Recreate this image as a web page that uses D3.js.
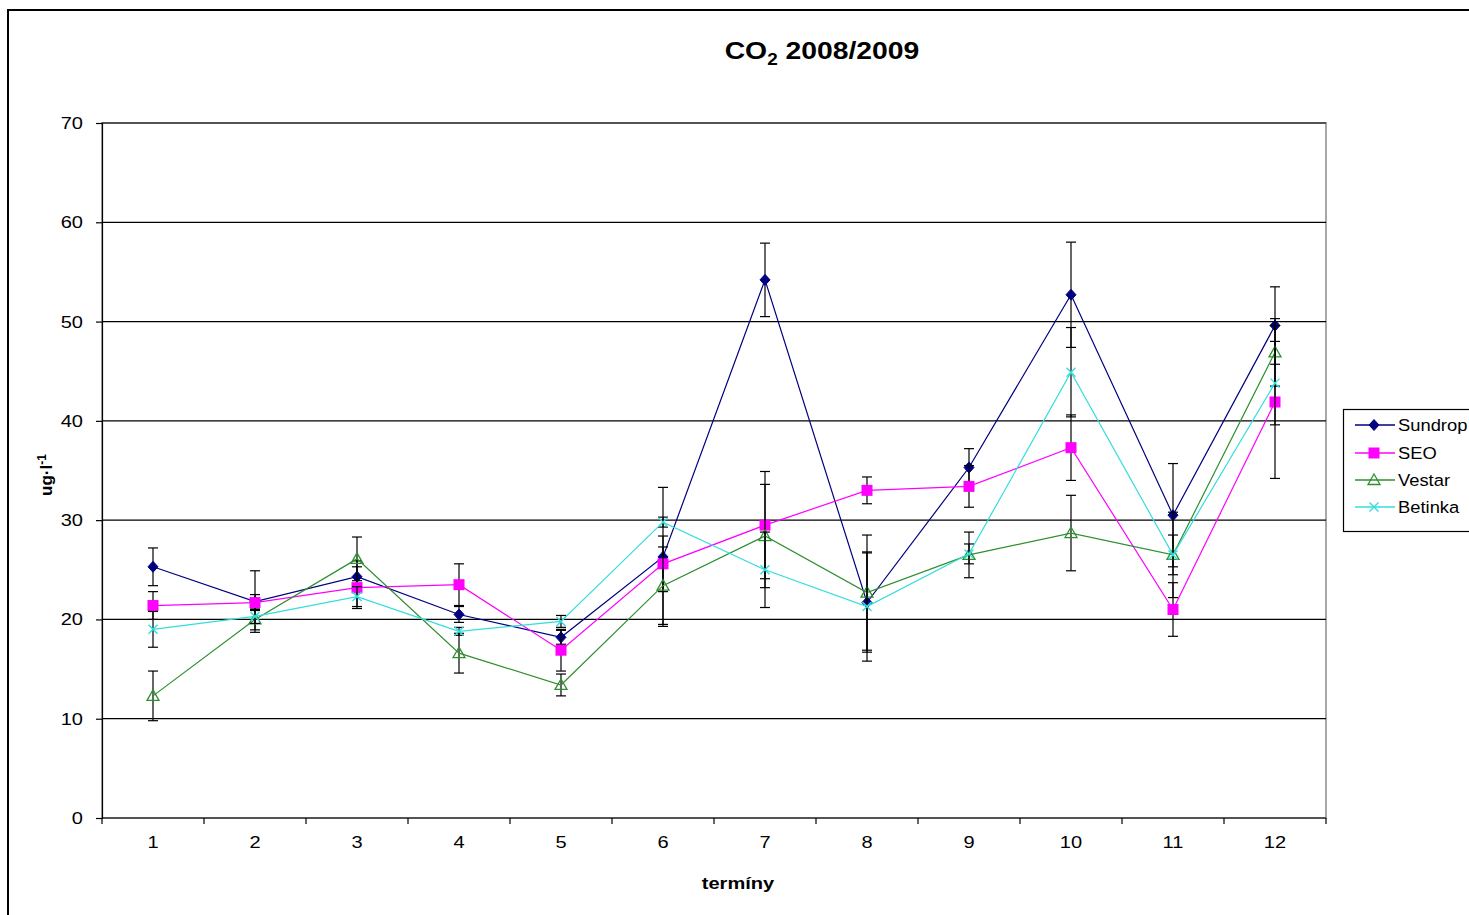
<!DOCTYPE html>
<html>
<head>
<meta charset="utf-8">
<script src="https://cdn.jsdelivr.net/npm/d3@7"></script>
<style>
  html, body { margin: 0; padding: 0; background: #fff; overflow: hidden; }
  svg { display: block; }
  text { font-family: "Liberation Sans", Arial, sans-serif; fill: #000; }
</style>
</head>
<body>
<svg id="chart" width="1469" height="915"></svg>
<script>
// Sampling dates (termíny)
const terms = ["1","2","3","4","5","6","7","8","9","10","11","12"];

// Mean CO2 values per site
const sundrop = [25.3, 21.8, 24.3, 20.5, 18.2, 26.3, 54.2, 21.7, 35.3, 52.7, 30.5, 49.6];
const seo     = [21.4, 21.7, 23.2, 23.5, 16.9, 25.6, 29.5, 33.0, 33.4, 37.3, 21.0, 41.9];
const vestar  = [12.3, 20.0, 26.1, 16.6, 13.4, 23.4, 28.4, 22.7, 26.5, 28.7, 26.5, 46.9];
const betinka = [19.0, 20.3, 22.3, 18.8, 19.8, 29.8, 25.0, 21.3, 26.6, 44.9, 26.5, 43.8];

// Error bar half-widths per site
const sundropErr = [1.9, 3.1, 1.6, 0.8, 0.7, 7.0, 3.7, 5.0, 1.9, 5.3, 5.2, 3.9];
const seoErr     = [1.4, 0.8, 2.1, 2.1, 2.1, 2.8, 5.4, 1.35, 2.1, 3.3, 2.7, 7.7];
const vestarErr  = [2.5, 1.05, 2.2, 2.0, 1.1, 3.9, 5.2, 5.8, 2.3, 3.8, 4.3, 3.4];
const betinkaErr = [1.8, 0.7, 1.0, 0.4, 0.6, 0.5, 3.8, 5.5, 1.0, 4.5, 2.0, 4.2];

const seriesNames = ["Sundrop", "SEO", "Vestar", "Betinka"];
const yTicks = [0, 10, 20, 30, 40, 50, 60, 70];

const series = [
  { name: seriesNames[0], values: sundrop, errs: sundropErr, color: "#000080", marker: "diamond" },
  { name: seriesNames[1], values: seo,     errs: seoErr,     color: "#ff00ff", marker: "square" },
  { name: seriesNames[2], values: vestar,  errs: vestarErr,  color: "#2f8f2f", marker: "triangle" },
  { name: seriesNames[3], values: betinka, errs: betinkaErr, color: "#33dddd", marker: "cross" }
];

const svg = d3.select("#chart");
const plot = { left: 102, right: 1326, top: 123, bottom: 818 };
const SX = 1.18; // horizontal stretch of text glyphs

const x = d3.scaleBand().domain(terms).range([plot.left, plot.right]).padding(0);
const y = d3.scaleLinear().domain([0, 70]).range([plot.bottom, plot.top]);
const cx = d => x(d) + x.bandwidth() / 2;

function stretchedText(g, px, py, str, opts = {}) {
  const t = g.append("text")
    .attr("transform", `translate(${px},${py}) scale(${opts.sx || SX},1)` + (opts.rotate ? ` rotate(${opts.rotate})` : ""))
    .attr("text-anchor", opts.anchor || "middle")
    .style("font-size", (opts.size || 17) + "px")
    .style("font-weight", opts.bold ? "bold" : "normal");
  return t;
}

// Outer chart frame
svg.append("rect")
  .attr("x", 8).attr("y", 10).attr("width", 1500).attr("height", 940)
  .attr("fill", "none").attr("stroke", "#000").attr("stroke-width", 2);

// Plot area border
svg.append("rect")
  .attr("x", plot.left).attr("y", plot.top)
  .attr("width", plot.right - plot.left).attr("height", plot.bottom - plot.top)
  .attr("fill", "none").attr("stroke", "#a8a8a8").attr("stroke-width", 2);

// Horizontal gridlines
svg.append("g").selectAll("line")
  .data(yTicks.filter(v => v > 0))
  .join("line")
  .attr("x1", plot.left).attr("x2", plot.right)
  .attr("y1", d => y(d)).attr("y2", d => y(d))
  .attr("stroke", "#000").attr("stroke-width", 1.2);

// Y axis
const yAxis = svg.append("g")
  .attr("transform", `translate(${plot.left},0)`)
  .call(d3.axisLeft(y).tickValues(yTicks).tickSize(6).tickFormat(""));
yAxis.select(".domain").attr("stroke", "#000").attr("stroke-width", 1.2);
yAxis.selectAll(".tick line").attr("stroke", "#000").attr("stroke-width", 1.2);
yTicks.forEach(v => {
  stretchedText(svg, 83, y(v) + 6, String(v), { anchor: "end" }).text(v);
});

// X axis with ticks between categories
const xAxisG = svg.append("g").attr("transform", `translate(0,${plot.bottom})`);
xAxisG.append("line")
  .attr("x1", plot.left).attr("x2", plot.right)
  .attr("stroke", "#000").attr("stroke-width", 1.2);
const boundaries = terms.map(t => x(t)).concat([x(terms[terms.length - 1]) + x.bandwidth()]);
xAxisG.selectAll("line.tk").data(boundaries).join("line")
  .attr("class", "tk")
  .attr("x1", d => d).attr("x2", d => d)
  .attr("y1", 0).attr("y2", 6)
  .attr("stroke", "#000").attr("stroke-width", 1.2);
terms.forEach(t => {
  stretchedText(svg, cx(t), 848, t).text(t);
});

// Title
const title = stretchedText(svg, 822, 59, "", { bold: true, size: 24 });
title.append("tspan").text("CO");
title.append("tspan").attr("dy", 6).style("font-size", "16px").text("2");
title.append("tspan").attr("dy", -6).text(" 2008/2009");

// Axis titles
stretchedText(svg, 738, 889, "", { bold: true, size: 17 }).text("termíny");
const yl = svg.append("text")
  .attr("transform", "translate(52,475) rotate(-90)")
  .attr("text-anchor", "middle")
  .style("font-size", "17px").style("font-weight", "bold");
yl.append("tspan").text("ug·l");
yl.append("tspan").attr("dy", -6).style("font-size", "12px").text("-1");

// Marker drawing
function drawMarker(g, type, color, px, py) {
  if (type === "diamond") {
    g.append("path")
      .attr("d", `M${px},${py - 5.5}L${px + 5},${py}L${px},${py + 5.5}L${px - 5},${py}Z`)
      .attr("fill", color).attr("stroke", color).attr("stroke-width", 1);
  } else if (type === "square") {
    g.append("rect")
      .attr("x", px - 5.5).attr("y", py - 5.5).attr("width", 11).attr("height", 11)
      .attr("fill", color);
  } else if (type === "triangle") {
    g.append("path")
      .attr("d", `M${px},${py - 6}L${px + 6},${py + 4.5}L${px - 6},${py + 4.5}Z`)
      .attr("fill", "none").attr("stroke", color).attr("stroke-width", 1.3);
  } else if (type === "cross") {
    g.append("path")
      .attr("d", `M${px - 4.5},${py - 4.5}L${px + 4.5},${py + 4.5}M${px - 4.5},${py + 4.5}L${px + 4.5},${py - 4.5}`)
      .attr("stroke", color).attr("stroke-width", 1.4);
  }
}

const line = d3.line().x((d, i) => cx(terms[i])).y(d => y(d));

series.forEach(s => {
  const g = svg.append("g");
  // error bars
  s.values.forEach((v, i) => {
    const px = cx(terms[i]);
    const lo = y(v - s.errs[i]), hi = y(v + s.errs[i]);
    g.append("line").attr("x1", px).attr("x2", px).attr("y1", lo).attr("y2", hi)
      .attr("stroke", "#000").attr("stroke-width", 1.2);
    [lo, hi].forEach(yy => g.append("line")
      .attr("x1", px - 5).attr("x2", px + 5).attr("y1", yy).attr("y2", yy)
      .attr("stroke", "#000").attr("stroke-width", 1.2));
  });
  g.append("path").datum(s.values)
    .attr("d", line).attr("fill", "none")
    .attr("stroke", s.color).attr("stroke-width", 1.2);
  s.values.forEach((v, i) => drawMarker(g, s.marker, s.color, cx(terms[i]), y(v)));
});

// Legend
const lg = svg.append("g");
lg.append("rect").attr("x", 1343.5).attr("y", 409.5).attr("width", 200).attr("height", 122)
  .attr("fill", "#fff").attr("stroke", "#000").attr("stroke-width", 1.2);
const legendY = [425, 453, 480, 507];
series.forEach((s, i) => {
  const ly = legendY[i];
  lg.append("line").attr("x1", 1355).attr("x2", 1395).attr("y1", ly).attr("y2", ly)
    .attr("stroke", s.color).attr("stroke-width", 1.3);
  drawMarker(lg, s.marker, s.color, 1374, ly);
  stretchedText(lg, 1398, ly + 6, "", { anchor: "start", size: 17, sx: 1.08 }).text(s.name);
});
</script>
</body>
</html>
